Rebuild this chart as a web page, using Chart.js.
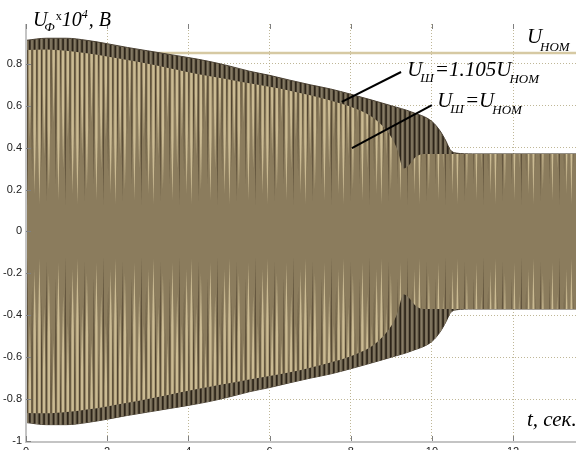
<!DOCTYPE html>
<html><head><meta charset="utf-8">
<script src="https://cdn.jsdelivr.net/npm/chart.js@4.4.1/dist/chart.umd.min.js"></script>
<style>html,body{margin:0;padding:0;overflow:hidden;background:#fff;width:576px;height:450px}canvas{display:block}</style>
</head><body>
<canvas id="c" width="576" height="456" style="width:576px;height:456px"></canvas>
<script>
// ---- data ----
// outer envelope (U_Ш = 1.105 U_НОМ), values in units of 10^4 V
const tOuter = [0, 0.5, 1, 1.5, 2, 2.5, 3, 3.5, 4, 4.5, 5, 5.5, 6, 6.5, 7, 7.5, 8, 8.5, 9, 9.5, 10, 10.2, 10.35, 10.45, 10.6, 11, 12, 13.55];
const uOuter = [0.912, 0.922, 0.922, 0.912, 0.896, 0.878, 0.862, 0.846, 0.83, 0.812, 0.79, 0.765, 0.745, 0.722, 0.70, 0.68, 0.655, 0.628, 0.6, 0.57, 0.525, 0.48, 0.43, 0.39, 0.374, 0.37, 0.37, 0.37];
// inner envelope (U_Ш = U_НОМ)
const tInner = [0, 0.5, 1, 1.5, 2, 2.5, 3, 3.5, 4, 4.5, 5, 5.5, 6, 6.5, 7, 7.5, 8, 8.5, 8.75, 9, 9.15, 9.3, 9.45, 9.6, 9.8, 11, 12, 13.55];
const uInner = [0.866, 0.868, 0.862, 0.85, 0.835, 0.818, 0.80, 0.78, 0.76, 0.742, 0.725, 0.707, 0.69, 0.672, 0.65, 0.625, 0.595, 0.55, 0.51, 0.45, 0.39, 0.30, 0.32, 0.355, 0.37, 0.37, 0.37, 0.37];
// nominal voltage level
const uNom = 0.852;
const xRange = [0, 13.55];
const yRange = [-1, 0.99];
const xTickStep = 2;
const yTickStep = 0.2;

const pts = (ts, vs, sign) => ts.map((t, i) => ({x: t, y: sign * vs[i]}));

// ---- stripe textures (style only) ----
function spike(g, ys, H, x, w, tip, color) {
  g.fillStyle = color;
  const yt = ys.getPixelForValue(tip), yw = ys.getPixelForValue(Math.min(tip + 0.3, 0.98));
  g.beginPath(); g.moveTo(x, 0); g.lineTo(x + w, 0); g.lineTo(x + w, yw); g.lineTo(x + w / 2, yt); g.lineTo(x, yw); g.closePath(); g.fill();
  const yb = ys.getPixelForValue(-tip), ybw = ys.getPixelForValue(-Math.min(tip + 0.3, 0.98));
  g.beginPath(); g.moveTo(x, H); g.lineTo(x + w, H); g.lineTo(x + w, ybw); g.lineTo(x + w / 2, yb); g.lineTo(x, ybw); g.closePath(); g.fill();
}
let innerPat = null, outerPat = null;
function innerPattern(ctx) {
  const chart = ctx.chart;
  if (!chart.chartArea) return '#8c7d5f';
  if (innerPat) return innerPat;
  const ys = chart.scales.y, H = chart.height, W = 38, P = 4.75;
  const c = document.createElement('canvas'); c.width = W; c.height = H;
  const g = c.getContext('2d');
  g.fillStyle = '#8b7c5d'; g.fillRect(0, 0, W, H);
  const lt = [0.13, 0.36, 0.2, 0.52, 0.15, 0.3, 0.44, 0.18];
  const dk = [0.3, 0.14, 0.46, 0.22, 0.56, 0.12, 0.26, 0.4];
  for (let i = 0; i < 8; i++) {
    const x = i * P;
    spike(g, ys, H, x + 0.2, 2.4, lt[i], '#cbbb93');
    spike(g, ys, H, x + 3.0, 1.1, dk[i], '#514430');
  }
  innerPat = chart.ctx.createPattern(c, 'repeat');
  return innerPat;
}
function outerPattern(ctx) {
  const chart = ctx.chart;
  if (!chart.chartArea) return '#6a5f4b';
  if (outerPat) return outerPat;
  const H = chart.height, W = 38, P = 4.75;
  const c = document.createElement('canvas'); c.width = W; c.height = H;
  const g = c.getContext('2d');
  g.fillStyle = '#6f6450'; g.fillRect(0, 0, W, H);
  for (let i = 0; i < 8; i++) {
    const x = i * P;
    g.fillStyle = '#2c2419'; g.fillRect(x + 0.5, 0, 1.6, H);
    g.fillStyle = '#877c66'; g.fillRect(x + 2.8, 0, 1.3, H);
  }
  outerPat = chart.ctx.createPattern(c, 'repeat');
  return outerPat;
}

// ---- annotations ----
function rich(ctx, x0, base, parts) {
  let x = x0;
  for (const p of parts) {
    ctx.font = (p.n ? '' : 'italic ') + p.s + 'px "Liberation Serif", "Times New Roman", serif';
    ctx.fillText(p.t, x, base + (p.dy || 0));
    x += ctx.measureText(p.t).width + (p.gap || 0);
  }
}
const annot = {
  id: 'annot',
  afterDraw(chart) {
    const {ctx, chartArea: a} = chart;
    const xs = chart.scales.x, ys = chart.scales.y;
    const P = (t, v) => [xs.getPixelForValue(t), ys.getPixelForValue(v)];
    ctx.save();
    // solid axis lines (left and bottom)
    ctx.strokeStyle = '#c4c4c4'; ctx.lineWidth = 2; ctx.setLineDash([]);
    ctx.beginPath();
    ctx.moveTo(a.left, a.top); ctx.lineTo(a.left, a.bottom + 1); ctx.lineTo(a.right, a.bottom + 1);
    ctx.stroke();
    // inner tick marks
    ctx.strokeStyle = '#808080'; ctx.lineWidth = 1;
    ctx.beginPath();
    xs.ticks.forEach(tk => {
      const px = Math.round(xs.getPixelForValue(tk.value)) + 0.5;
      ctx.moveTo(px, a.bottom); ctx.lineTo(px, a.bottom - 5);
      ctx.moveTo(px, a.top); ctx.lineTo(px, a.top + 5);
    });
    ys.ticks.forEach(tk => {
      const py = Math.round(ys.getPixelForValue(tk.value)) + 0.5;
      ctx.moveTo(a.left, py); ctx.lineTo(a.left + 5, py);
    });
    ctx.stroke();
    // pointer lines
    ctx.strokeStyle = '#000'; ctx.lineWidth = 2;
    let p1 = P(7.78, 0.618), p2 = P(9.24, 0.761);
    ctx.beginPath(); ctx.moveTo(p1[0], p1[1]); ctx.lineTo(p2[0], p2[1]); ctx.stroke();
    p1 = P(8.03, 0.398); p2 = P(10.0, 0.603);
    ctx.beginPath(); ctx.moveTo(p1[0], p1[1]); ctx.lineTo(p2[0], p2[1]); ctx.stroke();
    // texts
    ctx.fillStyle = '#000'; ctx.textBaseline = 'alphabetic'; ctx.textAlign = 'left';
    let q = P(9.39, 0.742);
    rich(ctx, q[0], q[1], [{t: 'U', s: 21, gap: -2}, {t: 'Ш', s: 13, dy: 6, gap: 1}, {t: '=1.105', s: 21}, {t: 'U', s: 21, gap: -2}, {t: 'НОМ', s: 13, dy: 7}]);
    q = P(10.13, 0.594);
    rich(ctx, q[0], q[1], [{t: 'U', s: 21, gap: -2}, {t: 'Ш', s: 13, dy: 6, gap: 1}, {t: '=', s: 21}, {t: 'U', s: 21, gap: -2}, {t: 'НОМ', s: 13, dy: 7}]);
    q = P(12.34, 0.90);
    rich(ctx, q[0], q[1], [{t: 'U', s: 21, gap: -2}, {t: 'НОМ', s: 13, dy: 8}]);
    q = P(12.34, -0.93);
    rich(ctx, q[0], q[1], [{t: 't, сек.', s: 21}]);
    q = P(0.17, 0.98);
    rich(ctx, q[0], q[1], [{t: 'U', s: 20, gap: -3}, {t: 'Ф', s: 13, dy: 5, gap: 1}, {t: 'x', s: 12, dy: -6, n: true}, {t: '10', s: 20}, {t: '4', s: 12, dy: -8, gap: 1}, {t: ', B', s: 20}]);
    ctx.restore();
  }
};

const gridCol = 'rgba(175,165,125,0.8)';
new Chart(document.getElementById('c'), {
  type: 'line',
  data: {
    datasets: [
      {data: pts(tInner, uInner, 1), fill: '+1', backgroundColor: innerPattern, borderColor: 'rgba(0,0,0,0)', borderWidth: 0, cubicInterpolationMode: 'monotone'},
      {data: pts(tInner, uInner, -1), fill: false, borderColor: 'rgba(0,0,0,0)', borderWidth: 0, cubicInterpolationMode: 'monotone'},
      {data: pts(tOuter, uOuter, 1), fill: '+1', backgroundColor: outerPattern, borderColor: '#4a4032', borderWidth: 1, cubicInterpolationMode: 'monotone'},
      {data: pts(tOuter, uOuter, -1), fill: false, borderColor: '#4a4032', borderWidth: 1, cubicInterpolationMode: 'monotone'},
      {data: [{x: xRange[0], y: uNom}, {x: xRange[1], y: uNom}], fill: false, borderColor: '#d6c9a3', borderWidth: 2.5}
    ]
  },
  options: {
    responsive: false, animation: false,
    layout: {padding: {top: 24, left: 0, right: 0, bottom: 0}},
    elements: {point: {radius: 0}},
    plugins: {legend: {display: false}, tooltip: {enabled: false}},
    scales: {
      x: {
        type: 'linear', min: xRange[0], max: xRange[1],
        afterFit: s => { s.height = 15; },
        ticks: {stepSize: xTickStep, includeBounds: false, padding: 4, color: '#222', font: {family: '"Liberation Sans", Arial', size: 11}, maxRotation: 0, callback: v => String(v)},
        grid: {color: gridCol, drawTicks: false, lineWidth: 1},
        border: {display: false, dash: [1, 2]}
      },
      y: {
        type: 'linear', min: yRange[0], max: yRange[1],
        afterFit: s => { s.width = 26; },
        ticks: {stepSize: yTickStep, includeBounds: false, padding: 4, color: '#222', font: {family: '"Liberation Sans", Arial', size: 11}, callback: v => String(Math.round(v * 10) / 10)},
        grid: {color: gridCol, drawTicks: false, lineWidth: 1},
        border: {display: false, dash: [1, 2]}
      }
    }
  },
  plugins: [annot]
});
</script></body></html>
